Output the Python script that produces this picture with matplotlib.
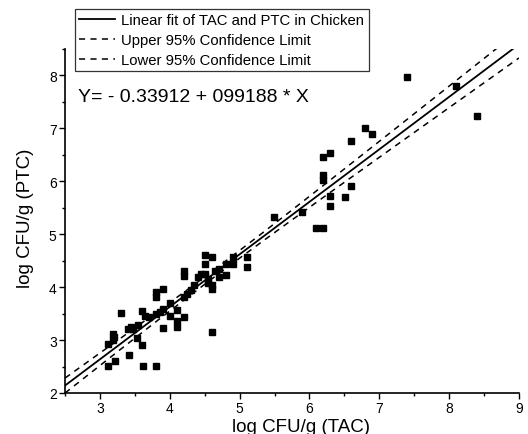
import numpy as np
import matplotlib
matplotlib.use("Agg")
import matplotlib.pyplot as plt
from matplotlib.ticker import MultipleLocator

plt.rcParams['font.family'] = ['Liberation Sans', 'DejaVu Sans']

# ---- data ----
tac = [7.39, 8.10, 8.40, 6.80, 6.90, 6.60, 6.30, 6.20, 6.20, 6.20, 6.60, 6.30, 6.51,
       6.30, 5.90, 6.10, 6.19, 5.49,
       5.11, 5.11, 4.50, 4.61, 4.50, 4.90, 4.90, 4.80, 4.20, 4.20, 4.40, 4.80, 4.60,
       4.60, 4.50, 4.55, 4.65, 4.70, 4.55, 4.45, 4.25, 4.20, 3.81, 3.81, 3.90, 3.90,
       3.80, 4.10, 4.20, 4.10, 4.10, 3.90, 4.60, 3.30, 3.60, 3.70, 3.55, 3.47, 3.40,
       3.19, 3.19, 3.12, 3.53, 3.60, 3.41, 3.22, 3.11, 3.61, 3.81, 3.86, 4.00, 4.30,
       3.45, 3.20, 3.65, 4.00, 4.70, 4.35]
ptc = [7.98, 7.81, 7.23, 7.00, 6.89, 6.77, 6.53, 6.45, 6.11, 6.02, 5.92, 5.73, 5.70,
       5.53, 5.42, 5.12, 5.12, 5.32,
       4.57, 4.38, 4.60, 4.57, 4.43, 4.57, 4.44, 4.43, 4.31, 4.22, 4.19, 4.23, 3.96,
       4.05, 4.25, 4.15, 4.30, 4.20, 4.08, 4.25, 3.87, 3.82, 3.90, 3.81, 3.96, 3.58,
       3.50, 3.57, 3.44, 3.36, 3.24, 3.23, 3.15, 3.51, 3.55, 3.44, 3.29, 3.20, 3.20,
       3.11, 3.00, 2.92, 3.04, 2.90, 2.72, 2.60, 2.51, 2.51, 2.51, 3.53, 3.70, 3.95,
       3.25, 3.05, 3.45, 3.45, 4.35, 4.05]
intercept = -0.33912
slope = 0.99188
x_ticks = [3, 4, 5, 6, 7, 8, 9]
y_ticks = [2, 3, 4, 5, 6, 7, 8]
equation = "Y= - 0.33912 + 099188 * X"

x = np.asarray(tac)
y = np.asarray(ptc)
n = len(x)
xline = np.linspace(2.5, 9.0, 200)
yfit = intercept + slope * xline
resid = y - (intercept + slope * x)
s = np.sqrt(np.sum(resid ** 2) / (n - 2))
sxx = np.sum((x - x.mean()) ** 2)
half = 1.6 * s * np.sqrt(1.0 / n + (xline - x.mean()) ** 2 / sxx)

fig = plt.figure(figsize=(5.28, 4.35), dpi=100)
ax = fig.add_axes([65 / 528, 1 - 394 / 435, (519 - 65) / 528, (394 - 50) / 435])

ax.plot(x, y, 's', color='black', markersize=5, zorder=3)
l1, = ax.plot(xline, yfit, '-', color='black', lw=1.3)
l2, = ax.plot(xline, yfit + half, color='black', lw=1.1, dashes=(4, 3.5))
l3, = ax.plot(xline, yfit - half, color='black', lw=1.1, dashes=(4, 3.5))

ax.set_xlim(2.5, 9)
ax.set_ylim(2, 8.5)
ax.set_xticks(x_ticks)
ax.set_yticks(y_ticks)
ax.xaxis.set_minor_locator(MultipleLocator(0.5))
ax.yaxis.set_minor_locator(MultipleLocator(0.5))
ax.tick_params(which='major', direction='out', length=4, width=1, labelsize=10, pad=2)
ax.tick_params(which='minor', direction='out', length=2.5, width=1)
for side in ('top', 'right'):
    ax.spines[side].set_visible(False)
for side in ('left', 'bottom'):
    ax.spines[side].set_linewidth(1.2)

ax.set_xlabel('log CFU/g (TAC)', fontsize=13.5)
ax.set_ylabel('log CFU/g (PTC)', fontsize=13.5)
ax.xaxis.set_label_coords(0.52, -0.072)
ax.yaxis.set_label_coords(-0.068, 0.51)

fig.text(78 / 528, 1 - 98 / 435, equation, fontsize=14, va='center', ha='left')

leg = fig.legend([l1, l2, l3],
                 ['Linear fit of TAC and PTC in Chicken',
                  'Upper 95% Confidence Limit',
                  'Lower 95% Confidence Limit'],
                 loc='upper left', bbox_to_anchor=(75 / 528, 1 - 10 / 435),
                 fontsize=10.7, handlelength=2.4, handletextpad=0.4,
                 borderpad=0.3, labelspacing=0.38, borderaxespad=0,
                 fancybox=False, frameon=True)
leg.get_frame().set_edgecolor('black')
leg.get_frame().set_linewidth(0.9)

fig.savefig('out.png', dpi=100)
